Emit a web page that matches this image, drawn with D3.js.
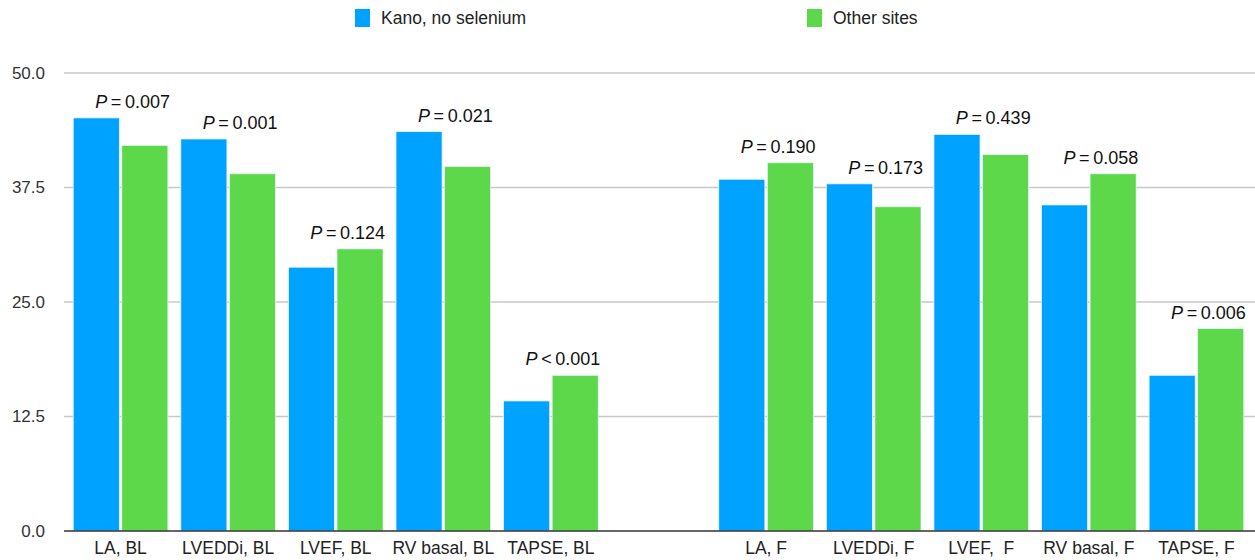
<html>
<head>
<script src="https://d3js.org/d3.v7.min.js"></script>
<style>
  body { margin: 0; background: #fff; }
  text { font-family: "Liberation Sans", Arial, sans-serif; }
</style>
</head>
<body>
<svg width="1255" height="560" id="chart"></svg>
<script>
var categories = ["LA, BL", "LVEDDi, BL", "LVEF, BL", "RV basal, BL", "TAPSE, BL", "",
                  "LA, F", "LVEDDi, F", "LVEF,  F", "RV basal, F", "TAPSE, F"];
var kano   = [45.1, 42.8, 28.8, 43.6, 14.2, null, 38.4, 37.9, 43.3, 35.6, 17.0];
var others = [42.1, 39.0, 30.8, 39.8, 17.0, null, 40.2, 35.4, 41.1, 39.0, 22.1];
var pLabels = ["0.007", "0.001", "0.124", "0.021", "<0.001", "",
               "0.190", "0.173", "0.439", "0.058", "0.006"];
var seriesNames = ["Kano, no selenium", "Other sites"];
var yTicks = [0, 12.5, 25, 37.5, 50];

var colors = ["#00a2ff", "#5dd84a"];
var svg = d3.select("#chart");

var x = d3.scaleBand()
    .domain(d3.range(categories.length))
    .range([70, 1247])
    .paddingInner(0.12)
    .paddingOuter(0.03);

var xInner = d3.scaleBand()
    .domain([0, 1])
    .range([0, x.bandwidth()])
    .paddingInner(0.05);

var y = d3.scaleLinear().domain([0, 50]).range([531, 73]);

// gridlines
svg.append("g").selectAll("line")
    .data(yTicks.filter(function(d){ return d > 0; }))
    .join("line")
    .attr("x1", 64).attr("x2", 1255)
    .attr("y1", function(d){ return y(d); })
    .attr("y2", function(d){ return y(d); })
    .attr("stroke", "#c8c8c8")
    .attr("stroke-width", 1.5);

// y tick labels
svg.append("g").selectAll("text")
    .data(yTicks)
    .join("text")
    .attr("x", 45)
    .attr("y", function(d){ return y(d); })
    .attr("dy", "0.35em")
    .attr("text-anchor", "end")
    .attr("font-size", 17)
    .attr("fill", "#333")
    .text(function(d){ return d3.format(".1f")(d); });

// bars
var rows = categories.map(function(c, i){ return {i: i, vals: [kano[i], others[i]]}; })
    .filter(function(r){ return r.vals[0] != null; });

var groups = svg.append("g").selectAll("g")
    .data(rows)
    .join("g")
    .attr("transform", function(d){ return "translate(" + x(d.i) + ",0)"; });

groups.selectAll("rect")
    .data(function(d){ return d.vals.map(function(v, k){ return {k: k, v: v}; }); })
    .join("rect")
    .attr("x", function(d){ return xInner(d.k); })
    .attr("width", xInner.bandwidth())
    .attr("y", function(d){ return y(d.v); })
    .attr("height", function(d){ return y(0) - y(d.v); })
    .attr("fill", function(d){ return colors[d.k]; })
    .attr("stroke", "#e8f6ff")
    .attr("stroke-width", 0.8);

// p value labels
var pText = svg.append("g").selectAll("text")
    .data(rows)
    .join("text")
    .attr("x", function(d){ return x(d.i) + x.bandwidth() / 2 + 12; })
    .attr("y", function(d){ return y(d3.max(d.vals)) - 10; })
    .attr("text-anchor", "middle")
    .attr("font-size", 18)
    .attr("fill", "#111");
pText.append("tspan").attr("font-style", "italic").text("P");
pText.append("tspan").text(function(d){
    var p = pLabels[d.i];
    return p.charAt(0) === "<" ? "\u2009<\u2009" + p.slice(1) : "\u2009=\u2009" + p;
});

// baseline axis
var xAxis = d3.axisBottom(x)
    .tickSize(0)
    .tickPadding(11)
    .tickFormat(function(i){ return categories[i]; });
var ax = svg.append("g")
    .attr("transform", "translate(0," + y(0) + ")")
    .call(xAxis);
ax.select(".domain").remove();
ax.selectAll("text")
    .attr("font-size", 17.5)
    .attr("fill", "#222")
    .style("font-family", "Liberation Sans, Arial, sans-serif")
    .style("white-space", "pre");
svg.append("line")
    .attr("x1", 64).attr("x2", 1255)
    .attr("y1", y(0)).attr("y2", y(0))
    .attr("stroke", "#333")
    .attr("stroke-width", 1.5);

// legend
var legendX = [355, 807];
var legend = svg.append("g").selectAll("g")
    .data(seriesNames)
    .join("g")
    .attr("transform", function(d, i){ return "translate(" + legendX[i] + ",9)"; });
legend.append("rect")
    .attr("width", 15).attr("height", 18)
    .attr("fill", function(d, i){ return colors[i]; });
legend.append("text")
    .attr("x", 26).attr("y", 9)
    .attr("dy", "0.35em")
    .attr("font-size", 17.5)
    .attr("fill", "#222")
    .text(function(d){ return d; });
</script>
</body>
</html>
